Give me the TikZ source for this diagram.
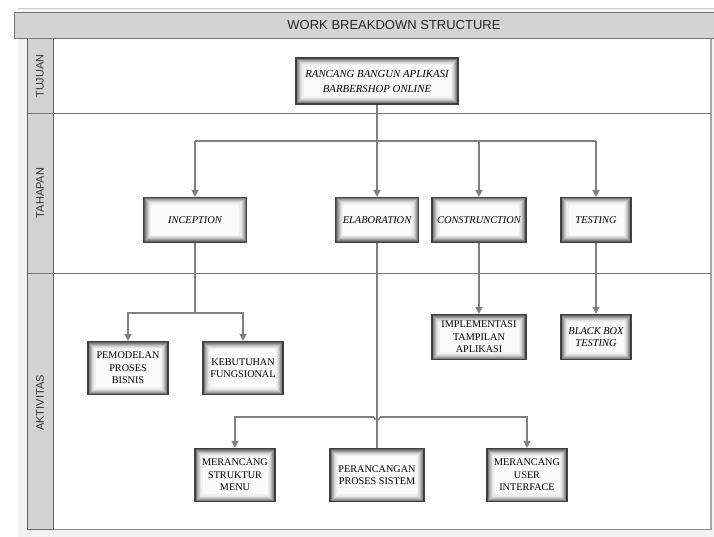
\documentclass[tikz,border=0pt]{standalone}
\usepackage{fontspec}
\setmainfont{Liberation Serif}
\newfontfamily\lanefont{Liberation Sans}
\usetikzlibrary{arrows.meta,calc}
\definecolor{lanegray}{HTML}{D3D3D3}
\definecolor{bggray}{HTML}{F2F2F2}
\definecolor{conncol}{HTML}{808080}
\tikzset{
  wbox/.style={draw=black!75, line width=1.1pt, align=center, inner sep=1pt,
    font=\fontsize{10.2}{12.5}\selectfont,
    path picture={
      \foreach \i/\c in {0/black!62,1/black!50,2/black!38,3/black!27,4/black!18,5/black!11,6/black!6,7.5/black!2}{
        \fill[\c] ([shift={(\i pt,\i pt)}]path picture bounding box.south west)
          rectangle ([shift={(-\i pt,-\i pt)}]path picture bounding box.north east);
      }
    }},
  itbox/.style={wbox, font=\itshape\fontsize{10.4}{12.5}\selectfont},
  ln/.style={draw=conncol, line width=1.4pt},
  arr/.style={ln, -{Triangle[length=7pt,width=7pt]}},
  lanelbl/.style={rotate=90, font=\lanefont\fontsize{11}{13}\selectfont, text=black!80},
}
\begin{document}
\begin{tikzpicture}[x=1pt,y=-1pt]
\useasboundingbox (0,0) rectangle (714,537);
\fill[white] (0,0) rectangle (714,537);
% background panel
\fill[bggray] (18,8) rectangle (714,537);
\draw[black!20, line width=0.6pt] (18,8) -- (714,8);
% content frame
\fill[white] (53,38) rectangle (711,529);
\draw[black!45, line width=0.8pt] (27,38) rectangle (711,529);
\draw[black!35, line width=1.6pt] (711,38) -- (711,529);
% lane column
\fill[lanegray] (27,38) rectangle (53,529);
\draw[black!60, line width=0.7pt] (27,38) rectangle (53,529);
% lane dividers
\draw[black!55, line width=0.8pt] (27,113) -- (711,113);
\draw[black!55, line width=0.8pt] (27,273) -- (711,273);
% title bar
\fill[lanegray] (14,12) rectangle (714,38);
\draw[black!55, line width=0.8pt] (714,12) -- (14,12) -- (14,38) -- (714,38);
\node[font=\lanefont\fontsize{13}{15}\selectfont, text=black!85] (title) at (394,25) {WORK BREAKDOWN STRUCTURE};
% lane labels
\node[lanelbl] (l1) at (40,76) {TUJUAN};
\node[lanelbl] (l2) at (40,193) {TAHAPAN};
\node[lanelbl] (l3) at (40,403) {AKTIVITAS};

% nodes
\node[wbox, minimum width=162pt, minimum height=46pt, font=\itshape\fontsize{10.8}{15}\selectfont] (top) at (377,81) {RANCANG BANGUN APLIKASI\\BARBERSHOP ONLINE};
\node[itbox, minimum width=103pt, minimum height=45pt] (inc) at (195,220) {INCEPTION};
\node[itbox, minimum width=83pt, minimum height=45pt] (ela) at (377,220) {ELABORATION};
\node[itbox, minimum width=94pt, minimum height=45pt] (con) at (479,220) {CONSTRUNCTION};
\node[itbox, minimum width=70pt, minimum height=45pt] (tes) at (596,220) {TESTING};
\node[wbox, minimum width=80pt, minimum height=53pt] (pem) at (128,368) {PEMODELAN\\PROSES\\BISNIS};
\node[wbox, minimum width=80pt, minimum height=53pt] (keb) at (243,368) {KEBUTUHAN\\FUNGSIONAL};
\node[wbox, minimum width=94pt, minimum height=45pt] (imp) at (479,337) {IMPLEMENTASI\\TAMPILAN\\APLIKASI};
\node[itbox, minimum width=70pt, minimum height=45pt] (bbt) at (596,337) {BLACK BOX\\TESTING};
\node[wbox, minimum width=80pt, minimum height=53pt] (mer1) at (235,475) {MERANCANG\\STRUKTUR\\MENU};
\node[wbox, minimum width=94pt, minimum height=53pt] (per) at (377,475) {PERANCANGAN\\PROSES SISTEM};
\node[wbox, minimum width=80pt, minimum height=53pt] (mer2) at (527,475) {MERANCANG\\USER\\INTERFACE};

% connectors: goal to phases
\coordinate (j1) at (377,141);
\draw[ln] (j1 -| inc) -- (j1 -| tes);
\draw[arr] (top.south) -- (ela.north);
\draw[arr] (j1 -| inc) -- (inc.north);
\draw[arr] (j1 -| con) -- (con.north);
\draw[arr] (j1 -| tes) -- (tes.north);
% inception
\coordinate (j2) at (195,313);
\draw[arr] (inc.south) -- (j2) -| (pem.north);
\draw[arr] (j2) -| (keb.north);
% construction & testing
\draw[arr] (con.south) -- (imp.north);
\draw[arr] (tes.south) -- (bbt.north);
% elaboration
\coordinate (j3) at (377,417);
\draw[ln] (ela.south) -- (per.north);
\draw[arr] ($(j3)+(-3,0)$) -| (mer1.north);
\draw[arr] ($(j3)+(3,0)$) -| (mer2.north);
\draw[ln] ($(j3)+(-3,0)$) arc[start angle=180, end angle=360, radius=3pt];
\end{tikzpicture}
\end{document}
